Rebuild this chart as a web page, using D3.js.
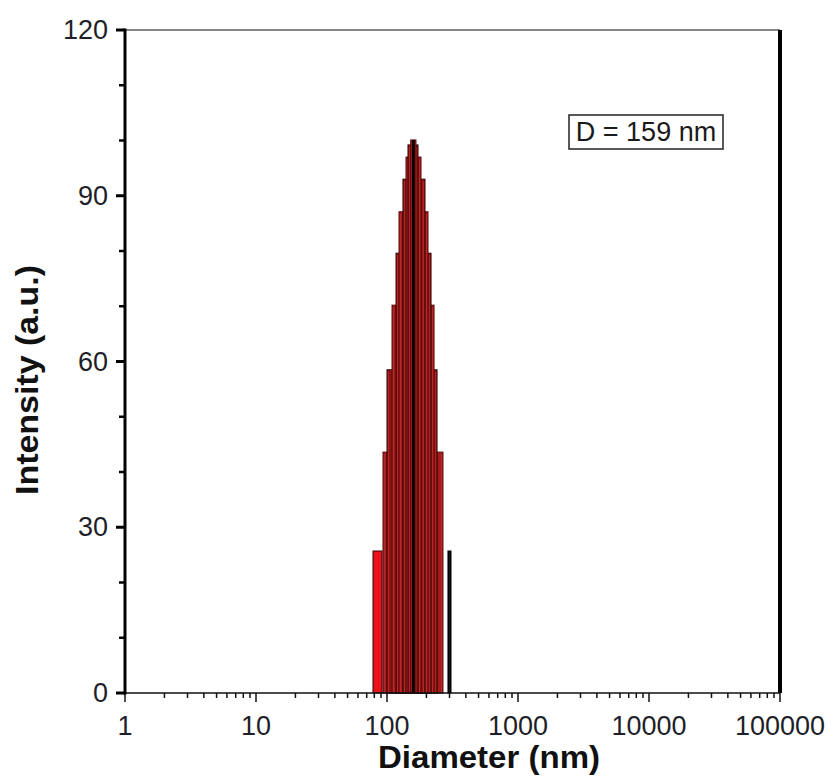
<!DOCTYPE html>
<html>
<head>
<meta charset="utf-8">
<script src="https://cdn.jsdelivr.net/npm/d3@7"></script>
<style>
  body { margin: 0; background: #fff; }
  svg { display: block; font-family: "Liberation Sans", Arial, sans-serif; }
</style>
</head>
<body>
<svg id="chart" width="833" height="776"></svg>
<script>
// histogram bins (nm), drawn widest first
const binLo = [93.2, 100, 109.2, 117.2, 123.5, 132.4, 139.7, 144.6, 151.7];
const binHi = [267.5, 241, 228.6, 216.8, 205.6, 195, 181.8, 172.5, 166.4];
const binVal = [43.6, 58.5, 70.2, 79.6, 87.1, 93.0, 97.0, 99.2, 100.1];

// the two separate short bars at the edges
const edgeLo = [78.2, 292];
const edgeHi = [91.6, 308];
const edgeVal = [25.7, 25.7];

const meanD = 159;
const peakVal = 100.1;

const xTicks = [1, 10, 100, 1000, 10000, 100000];
const yTicks = [0, 30, 60, 90, 120];

const margin = { left: 125, right: 53, top: 30, bottom: 83 };
const width = 833, height = 776;

const svg = d3.select("#chart");

const x = d3.scaleLog().domain([1, 100000]).range([margin.left, width - margin.right]);
const y = d3.scaleLinear().domain([0, 120]).range([height - margin.bottom, margin.top]);

const plot = svg.append("g");

// main nested bars
binVal.forEach((v, i) => {
    plot.append("rect")
        .attr("x", x(binLo[i]))
        .attr("y", y(v))
        .attr("width", x(binHi[i]) - x(binLo[i]))
        .attr("height", y(0) - y(v))
        .attr("fill", i % 2 ? "#8e1313" : "#a01c1c")
        .attr("stroke", i % 2 ? "#2a0404" : "#5a0a0a")
        .attr("stroke-width", 1);
    // lighter stripe just inside each bar edge
    [binLo[i] * 1.025, binHi[i] / 1.025].forEach(d => {
        plot.append("line")
            .attr("x1", x(d)).attr("x2", x(d))
            .attr("y1", y(v) + 2).attr("y2", y(0))
            .attr("stroke", "#c2302f")
            .attr("stroke-width", 0.8);
    });
});

// edge bars
plot.append("rect")
    .attr("x", x(edgeLo[0]))
    .attr("y", y(edgeVal[0]))
    .attr("width", x(edgeHi[0]) - x(edgeLo[0]))
    .attr("height", y(0) - y(edgeVal[0]))
    .attr("fill", "#e8141a")
    .attr("stroke", "#300")
    .attr("stroke-width", 1);

plot.append("rect")
    .attr("x", x(edgeLo[1]))
    .attr("y", y(edgeVal[1]))
    .attr("width", x(edgeHi[1]) - x(edgeLo[1]))
    .attr("height", y(0) - y(edgeVal[1]))
    .attr("fill", "#111")
    .attr("stroke", "#000")
    .attr("stroke-width", 1);

// dark line at the mean diameter
plot.append("line")
    .attr("x1", x(meanD)).attr("x2", x(meanD))
    .attr("y1", y(peakVal)).attr("y2", y(0))
    .attr("stroke", "#0a0000")
    .attr("stroke-width", 3);

// frame
svg.append("line")
    .attr("x1", margin.left).attr("x2", width - margin.right)
    .attr("y1", margin.top).attr("y2", margin.top)
    .attr("stroke", "#111").attr("stroke-width", 1.2);
svg.append("line")
    .attr("x1", width - margin.right).attr("x2", width - margin.right)
    .attr("y1", margin.top).attr("y2", height - margin.bottom)
    .attr("stroke", "#000").attr("stroke-width", 4);

// x axis
const xAxis = svg.append("g")
    .attr("transform", `translate(0,${height - margin.bottom})`);
const minorX = [];
for (let d = 1; d < 100000; d *= 10) {
    for (let k = 2; k < 10; k++) minorX.push(d * k);
}
xAxis.append("line")
    .attr("x1", margin.left).attr("x2", width - margin.right)
    .attr("y1", 0).attr("y2", 0)
    .attr("stroke", "#111").attr("stroke-width", 1.5);
xAxis.selectAll(".xminor").data(minorX).join("line")
    .attr("x1", d => x(d)).attr("x2", d => x(d))
    .attr("y1", 0).attr("y2", 5)
    .attr("stroke", "#111").attr("stroke-width", 1.5);
xAxis.selectAll(".xmajor").data(xTicks).join("line")
    .attr("x1", d => x(d)).attr("x2", d => x(d))
    .attr("y1", 0).attr("y2", 9)
    .attr("stroke", "#111").attr("stroke-width", 1.5);
xAxis.selectAll(".xlab").data(xTicks).join("text")
    .attr("x", d => x(d))
    .attr("y", 42)
    .attr("text-anchor", "middle")
    .attr("font-size", 27)
    .attr("fill", "#1f1f2a")
    .text(d => d);

// y axis
const yAxis = svg.append("g")
    .attr("transform", `translate(${margin.left},0)`);
yAxis.append("line")
    .attr("x1", 0).attr("x2", 0)
    .attr("y1", margin.top - 1.5).attr("y2", height - margin.bottom + 1.5)
    .attr("stroke", "#000").attr("stroke-width", 3);
const minorY = d3.range(10, 120, 10).filter(v => v % 30 !== 0);
yAxis.selectAll(".yminor").data(minorY).join("line")
    .attr("x1", 0).attr("x2", -6)
    .attr("y1", d => y(d)).attr("y2", d => y(d))
    .attr("stroke", "#000").attr("stroke-width", 2.5);
yAxis.selectAll(".ymajor").data(yTicks).join("line")
    .attr("x1", 0).attr("x2", -9)
    .attr("y1", d => y(d)).attr("y2", d => y(d))
    .attr("stroke", "#000").attr("stroke-width", 3);
yAxis.selectAll(".ylab").data(yTicks).join("text")
    .attr("x", -17)
    .attr("y", d => y(d) + 9)
    .attr("text-anchor", "end")
    .attr("font-size", 27)
    .attr("fill", "#1f1f2a")
    .text(d => d);

// axis titles
svg.append("text")
    .attr("x", 489)
    .attr("y", 768)
    .attr("text-anchor", "middle")
    .attr("font-size", 31)
    .attr("font-weight", "bold")
    .attr("textLength", 222)
    .attr("lengthAdjust", "spacingAndGlyphs")
    .attr("fill", "#111")
    .text("Diameter (nm)");

svg.append("text")
    .attr("transform", "translate(38,380) rotate(-90)")
    .attr("text-anchor", "middle")
    .attr("font-size", 31)
    .attr("font-weight", "bold")
    .attr("textLength", 230)
    .attr("lengthAdjust", "spacingAndGlyphs")
    .attr("fill", "#111")
    .text("Intensity (a.u.)");

// label box
svg.append("rect")
    .attr("x", 569).attr("y", 115)
    .attr("width", 154).attr("height", 34)
    .attr("fill", "#fff")
    .attr("stroke", "#222").attr("stroke-width", 1.5);
svg.append("text")
    .attr("x", 646).attr("y", 141)
    .attr("text-anchor", "middle")
    .attr("font-size", 27)
    .attr("fill", "#1a1a1a")
    .text(`D = ${meanD} nm`);
</script>
</body>
</html>
